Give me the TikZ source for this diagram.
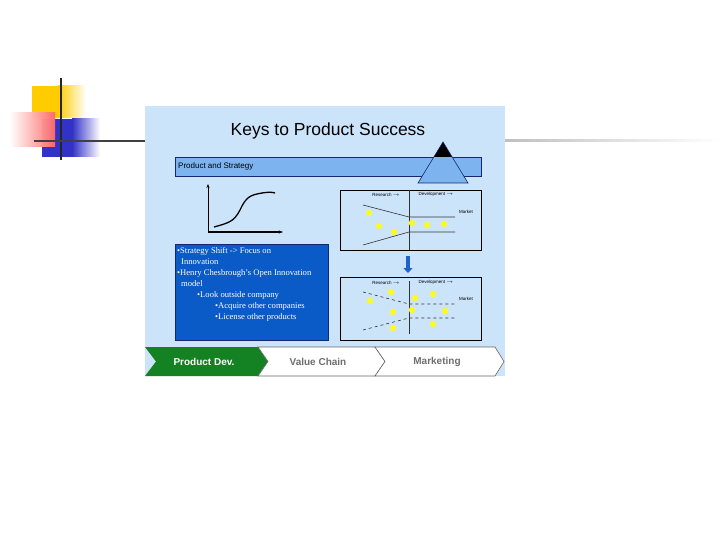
\documentclass[tikz,border=0pt]{standalone}
\usepackage{fontspec}
\setmainfont{Liberation Serif}
\setsansfont{Liberation Sans}
\usetikzlibrary{arrows.meta,shapes.geometric,shapes.symbols}
\definecolor{panel}{RGB}{204,228,250}
\definecolor{barblue}{RGB}{125,180,240}
\definecolor{boxblue}{RGB}{10,90,200}
\definecolor{navy}{RGB}{20,40,110}
\definecolor{dotyel}{RGB}{250,250,40}
\definecolor{chevgreen}{RGB}{20,130,35}
\definecolor{chevtext}{RGB}{110,110,110}
\definecolor{goldy}{RGB}{255,204,0}
\definecolor{sqblue}{RGB}{50,50,200}
\definecolor{arrblue}{RGB}{30,100,200}
\tikzset{
  dot/.style={circle,fill=dotyel,draw=none,inner sep=0pt,minimum size=6.5pt},
  diagbox/.style={draw=black,line width=0.8pt,fill=panel},
  thinln/.style={line width=0.6pt,black!80},
  smalllbl/.style={font=\sffamily\fontsize{4.5}{5}\selectfont,inner sep=0pt},
  bullettext/.style={font=\fontsize{8.6}{11}\selectfont,text=white,align=left,anchor=north west,inner sep=0pt},
  chevlbl/.style={font=\sffamily\bfseries\fontsize{10}{12}\selectfont,inner sep=0pt}
}
\begin{document}
\begin{tikzpicture}[x=1pt,y=-1pt]
\useasboundingbox (0,0) rectangle (720,540);
\fill[white] (0,0) rectangle (720,540);
% decorative squares
\fill[goldy] (32,86) rectangle (58,118);
\shade[left color=goldy,right color=white] (58,86) rectangle (86,118);
\fill[sqblue] (42,119) rectangle (72,157);
\shade[left color=sqblue,right color=white] (72,119) rectangle (100,157);
\shade[left color=white,right color=red,opacity=0.95] (10,113) rectangle (55,147);
\shade[top color=red!0,bottom color=white,opacity=0.4] (10,113) rectangle (55,147);
\draw[line width=2.5pt,black!85] (61,78) -- (61,160);
\draw[line width=2.5pt,black!75] (34,141) -- (145,141);
\shade[left color=black!25,right color=white] (505,140) rectangle (720,142);
% panel
\node[draw=none,fill=panel,minimum width=360pt,minimum height=270pt,anchor=north west,inner sep=0pt] (panel) at (145,106) {};
\node[font=\sffamily\fontsize{17.5}{19}\selectfont] (title) at (328,131) {Keys to Product Success};
% bar
\node[draw=navy,line width=0.8pt,fill=barblue,minimum width=306pt,minimum height=19pt,anchor=north west,inner sep=0pt] (bar) at (175,157) {};
\node[font=\sffamily\fontsize{8}{9}\selectfont,anchor=west,inner sep=0pt] (bartext) at (178,166.5) {Product and Strategy};
% triangle
\fill[barblue] (443,142) -- (418,183) -- (468,183) -- cycle;
\begin{scope}
\clip (400,130) rectangle (490,157);
\fill[black] (443,142) -- (418,183) -- (468,183) -- cycle;
\end{scope}
\draw[navy,line width=0.6pt] (443,142) -- (418,183) -- (468,183) -- cycle;
% s-curve graph
\coordinate (ytop) at (208,184);
\coordinate (orig) at (208,232);
\coordinate (xend) at (283,232);
\draw[line width=1pt,-{Stealth[length=4pt]}] (orig) -- (ytop);
\draw[line width=1pt,-{Stealth[length=4pt]}] (orig) -- (xend);
\draw[line width=1.3pt] (214,227) .. controls (228,223) and (234,222) .. (240,210)
  .. controls (246,197) and (250,195) .. (262,193) .. controls (268,192) and (272,192) .. (275,193);
% top diagram
\node[diagbox,minimum width=141pt,minimum height=60pt,anchor=north west,inner sep=0pt] (d1) at (340,190) {};
\draw[thinln] (409,190) -- (409,250);
\node[smalllbl] (r1) at (386,194.5) {Research $\rightarrow$};
\node[smalllbl] (v1) at (436,194.5) {Development $\rightarrow$};
\node[smalllbl] (m1) at (466,212) {Market};
\draw[thinln] (363,205) -- (409,217) -- (455,217);
\draw[thinln] (363,245) -- (409,232) -- (455,232);
\foreach \p in {(369,213),(379,226),(394,232),(412,223),(427,225),(444,224)} \node[dot] at \p {};
% arrow
\coordinate (a1) at (408,256);
\coordinate (a2) at (408,273);
\draw[-{Triangle[length=5pt,width=9pt]},line width=4pt,arrblue] (a1) -- (a2);
% bottom diagram
\node[diagbox,minimum width=141pt,minimum height=63pt,anchor=north west,inner sep=0pt] (d2) at (340,277) {};
\draw[thinln] (409,281) -- (409,334);
\node[smalllbl] (r2) at (386,282.5) {Research $\rightarrow$};
\node[smalllbl] (v2) at (436,282.5) {Development $\rightarrow$};
\node[smalllbl] (m2) at (466,299) {Market};
\draw[thinln,dashed] (363,292) -- (409,304) -- (455,304);
\draw[thinln,dashed] (363,330) -- (409,318) -- (455,318);
\foreach \p in {(391,292),(370,301),(415,298),(433,294),(393,312),(412,310),(445,311),(393,328),(433,324)} \node[dot] at \p {};
% blue text box
\node[draw=navy,line width=0.8pt,fill=boxblue,minimum width=153pt,minimum height=96pt,anchor=north west,inner sep=0pt] (tbox) at (175,244) {};
\node[bullettext] (t1) at (177,247) {%
\textbullet Strategy Shift -> Focus on\\
\hspace*{4pt}Innovation\\
\textbullet Henry Chesbrough's Open Innovation\\
\hspace*{4pt}model\\
\hspace*{20pt}\textbullet Look outside company\\
\hspace*{38pt}\textbullet Acquire other companies\\
\hspace*{38pt}\textbullet License other products};
% chevrons
\fill[chevgreen] (145,347) -- (258,347) -- (268,361.5) -- (258,376) -- (145,376) -- (156,361.5) -- cycle;
\node[chevlbl,text=white] (c1) at (204,361.5) {Product Dev.};
\draw[black!60,fill=white,line width=0.6pt] (258,347) -- (375,347) -- (385,361.5) -- (375,376) -- (258,376) -- (268,361.5) -- cycle;
\node[chevlbl,text=chevtext] (c2) at (318,361.5) {Value Chain};
\draw[black!60,fill=white,line width=0.6pt] (375,347) -- (495,347) -- (504,361.5) -- (495,376) -- (375,376) -- (385,361.5) -- cycle;
\node[chevlbl,text=chevtext] (c3) at (437,361.5) {Marketing};
\end{tikzpicture}
\end{document}
